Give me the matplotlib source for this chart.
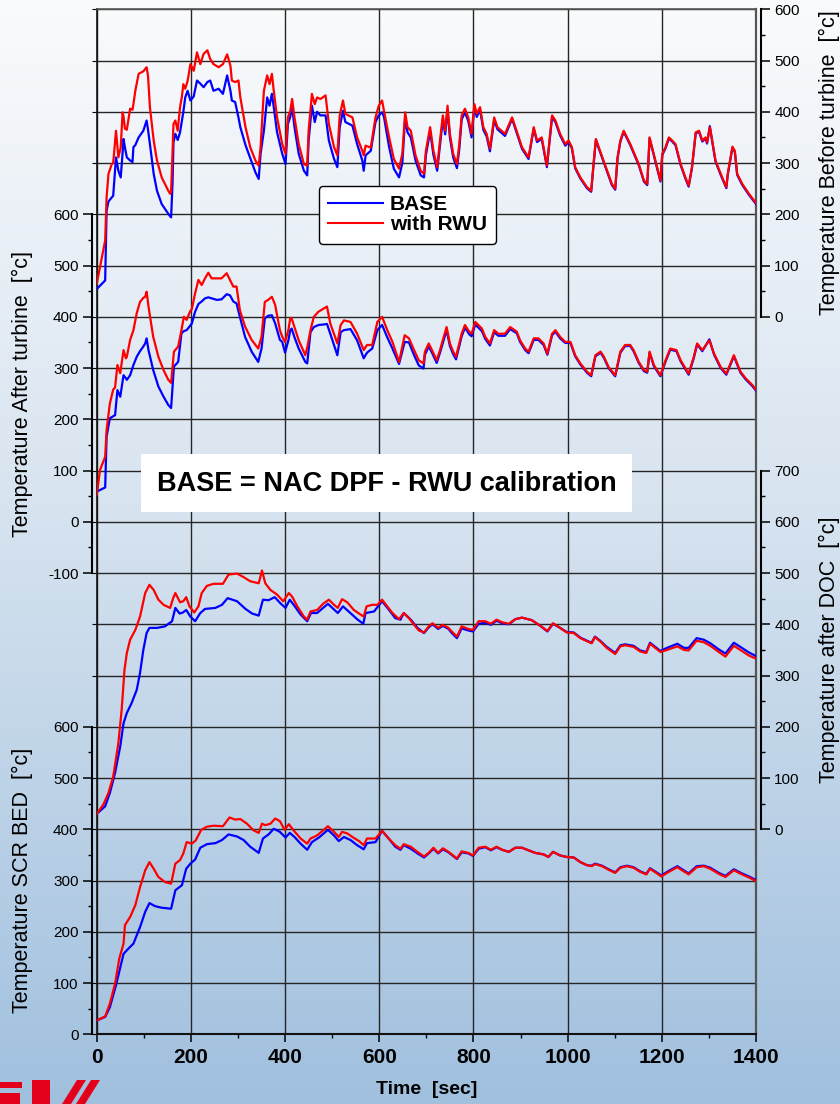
import numpy as np
import matplotlib
matplotlib.use('Agg')
import matplotlib.pyplot as plt
from matplotlib.lines import Line2D
from matplotlib.patches import Rectangle, Polygon

plt.rcParams['font.family'] = ['Liberation Sans', 'DejaVu Sans']
plt.rcParams['axes.unicode_minus'] = False

# ---- data: Temperature Before turbine [°c]
t_bt = [0, 18, 21, 25, 32, 35, 41, 46, 51, 55, 57, 60, 64, 71, 76, 78, 82, 89, 99, 106,
        109, 113, 121, 128, 138, 152, 156, 158, 161, 163, 167, 172, 177, 181, 184, 188, 193, 199, 206, 213,
        220, 227, 235, 241, 248, 259, 268, 277, 284, 287, 294, 301, 305, 316, 326, 337, 344, 348, 355, 362,
        367, 372, 376, 383, 394, 401, 406, 411, 415, 420, 429, 440, 447, 450, 457, 463, 468, 475, 486, 493,
        504, 511, 516, 523, 528, 543, 553, 564, 567, 571, 582, 592, 599, 606, 610, 621, 631, 642, 649, 655,
        660, 667, 677, 688, 695, 699, 708, 715, 723, 729, 735, 740, 745, 750, 757, 765, 770, 775, 782, 789,
        796, 802, 807, 814, 821, 828, 835, 844, 851, 867, 882, 889, 903, 917, 928, 935, 945, 956, 967, 974,
        984, 995, 1002, 1009, 1016, 1027, 1041, 1050, 1055, 1060, 1066, 1084, 1094, 1101, 1106, 1112, 1119, 1133, 1151, 1162,
        1169, 1174, 1190, 1197, 1201, 1208, 1215, 1222, 1229, 1240, 1250, 1257, 1264, 1272, 1279, 1286, 1293, 1296, 1302, 1307,
        1314, 1325, 1337, 1340, 1345, 1350, 1355, 1360, 1371, 1385, 1400]
bt_rwu = [64, 149, 233, 279, 298, 300, 363, 311, 330, 399, 390, 367, 365, 406, 404, 415, 441, 474, 479, 487,
          470, 409, 344, 305, 272, 246, 240, 245, 320, 376, 383, 363, 409, 430, 454, 445, 460, 493, 480, 516,
          493, 513, 520, 503, 493, 487, 493, 512, 490, 461, 458, 461, 428, 370, 331, 305, 295, 331, 441, 471,
          454, 474, 441, 389, 337, 318, 389, 402, 425, 389, 337, 298, 295, 363, 435, 415, 428, 425, 432, 376,
          331, 315, 393, 422, 396, 389, 350, 324, 315, 334, 330, 389, 412, 422, 402, 350, 308, 289, 318, 399,
          370, 363, 315, 285, 279, 324, 370, 324, 292, 344, 393, 363, 412, 357, 318, 298, 337, 393, 406, 389,
          357, 415, 396, 409, 370, 357, 328, 389, 370, 357, 389, 370, 331, 311, 370, 344, 350, 295, 393, 383,
          357, 337, 344, 331, 292, 272, 253, 246, 298, 347, 331, 285, 259, 250, 311, 344, 363, 337, 298, 266,
          259, 350, 292, 266, 318, 331, 350, 344, 337, 298, 272, 256, 292, 360, 363, 344, 350, 340, 370, 344,
          305, 279, 253, 279, 305, 332, 324, 279, 259, 240, 222]
bt_base = [54, 71, 207, 225, 233, 236, 311, 285, 272, 320, 347, 330, 311, 305, 302, 331, 335, 350, 363, 383,
           365, 337, 279, 246, 220, 201, 196, 194, 260, 340, 357, 345, 360, 383, 400, 428, 441, 422, 430, 461,
           455, 448, 458, 461, 441, 445, 435, 471, 441, 422, 419, 389, 370, 335, 310, 282, 269, 318, 363, 428,
           412, 435, 409, 360, 318, 298, 376, 390, 409, 370, 318, 285, 276, 344, 412, 380, 400, 393, 393, 344,
           308, 292, 370, 402, 380, 373, 337, 305, 285, 315, 324, 380, 393, 399, 390, 331, 289, 272, 300, 389,
           360, 350, 305, 276, 272, 315, 362, 316, 285, 336, 385, 356, 404, 350, 311, 290, 328, 385, 399, 382,
           350, 410, 390, 404, 365, 352, 323, 384, 366, 353, 386, 367, 328, 308, 367, 341, 347, 292, 390, 380,
           354, 334, 341, 329, 290, 270, 251, 244, 296, 345, 329, 283, 257, 248, 309, 342, 361, 335, 296, 264,
           257, 348, 290, 264, 316, 329, 348, 342, 335, 296, 270, 254, 290, 358, 361, 342, 348, 338, 372, 342,
           303, 277, 251, 277, 303, 330, 322, 277, 257, 238, 220]

# ---- data: Temperature After turbine [°c]
t_at = [0, 7, 18, 21, 28, 35, 39, 44, 50, 57, 62, 64, 71, 78, 85, 92, 99, 103, 106, 110,
        120, 131, 142, 152, 158, 164, 173, 180, 185, 191, 198, 202, 209, 216, 223, 230, 237, 244, 255, 265,
        276, 283, 290, 297, 304, 315, 329, 343, 350, 357, 364, 372, 379, 389, 394, 400, 407, 411, 414, 420,
        429, 443, 447, 454, 461, 471, 482, 489, 496, 511, 518, 525, 539, 553, 567, 574, 585, 596, 606, 617,
        628, 642, 654, 663, 674, 684, 694, 697, 705, 712, 722, 729, 736, 743, 750, 757, 763, 770, 775, 782,
        791, 796, 804, 818, 825, 835, 844, 853, 867, 878, 892, 899, 910, 917, 928, 938, 949, 957, 967, 974,
        984, 995, 1006, 1016, 1027, 1041, 1050, 1059, 1070, 1077, 1087, 1101, 1112, 1122, 1133, 1140, 1151, 1162, 1169, 1174,
        1183, 1197, 1208, 1218, 1231, 1240, 1257, 1268, 1275, 1286, 1301, 1311, 1325, 1337, 1353, 1367, 1378, 1392, 1400]
at_rwu = [52, 101, 127, 179, 231, 258, 262, 306, 290, 335, 319, 322, 355, 374, 407, 429, 437, 439, 449, 420,
          361, 322, 296, 277, 271, 332, 342, 374, 400, 394, 410, 415, 446, 472, 462, 475, 486, 475, 475, 475,
          485, 472, 459, 459, 413, 381, 355, 338, 361, 429, 433, 439, 423, 374, 361, 351, 374, 397, 397, 380,
          354, 325, 340, 374, 400, 410, 416, 420, 387, 348, 384, 393, 390, 367, 335, 345, 345, 390, 400, 374,
          351, 312, 364, 358, 335, 315, 309, 332, 348, 335, 315, 335, 358, 380, 348, 332, 322, 348, 367, 384,
          371, 367, 390, 377, 361, 348, 374, 367, 367, 380, 371, 354, 338, 332, 358, 358, 348, 328, 367, 374,
          361, 351, 351, 325, 309, 293, 286, 325, 332, 322, 302, 286, 332, 345, 345, 335, 312, 296, 293, 332,
          306, 286, 315, 338, 335, 315, 289, 322, 348, 335, 354, 328, 302, 289, 325, 293, 280, 267, 258]
at_base = [59, 62, 67, 166, 202, 206, 208, 257, 244, 286, 280, 277, 286, 306, 322, 333, 342, 348, 358, 335,
           296, 264, 244, 228, 222, 303, 312, 368, 372, 374, 382, 387, 410, 425, 430, 436, 438, 436, 433, 434,
           444, 442, 430, 426, 400, 361, 332, 312, 338, 397, 402, 403, 387, 355, 351, 330, 354, 374, 377, 360,
           338, 312, 309, 370, 380, 384, 385, 386, 367, 325, 370, 374, 376, 354, 319, 330, 338, 374, 384, 360,
           338, 308, 351, 350, 325, 305, 299, 326, 342, 330, 310, 330, 352, 374, 343, 327, 317, 343, 362, 379,
           366, 362, 385, 372, 357, 344, 370, 363, 363, 376, 368, 351, 335, 329, 355, 355, 345, 326, 364, 371,
           358, 349, 349, 323, 307, 291, 284, 323, 330, 320, 300, 284, 330, 343, 343, 333, 310, 294, 291, 330,
           304, 284, 313, 336, 333, 313, 287, 320, 346, 333, 356, 326, 300, 287, 323, 291, 278, 265, 256]

# ---- data: Temperature after DOC [°c]
t_doc_rwu = [0, 14, 25, 35, 46, 53, 59, 64, 71, 82, 92, 103, 112, 121, 131, 142, 156, 162, 167, 172,
             177, 184, 190, 197, 207, 216, 223, 234, 248, 268, 280, 298, 312, 326, 344, 351, 358, 369, 383, 396,
             408, 415, 426, 440, 447, 454, 468, 482, 493, 504, 512, 521, 532, 546, 557, 567, 573, 585, 596, 606,
             617, 628, 642, 652, 663, 674, 684, 695, 705, 713, 725, 735, 747, 754, 765, 775, 789, 799, 811, 825,
             837, 849, 861, 875, 889, 903, 924, 942, 957, 969, 984, 998, 1013, 1027, 1041, 1051, 1058, 1069, 1083, 1101,
             1112, 1122, 1140, 1154, 1167, 1175, 1197, 1211, 1233, 1247, 1257, 1274, 1289, 1303, 1321, 1335, 1353, 1370, 1385, 1400]
doc_rwu = [30, 48, 71, 103, 168, 233, 311, 344, 370, 389, 415, 461, 477, 467, 448, 438, 432, 450, 461, 452,
           443, 445, 453, 435, 423, 435, 461, 475, 479, 479, 497, 499, 492, 484, 480, 505, 480, 467, 458, 445,
           461, 454, 435, 415, 409, 425, 428, 441, 448, 438, 432, 449, 443, 428, 421, 415, 435, 438, 438, 448,
           435, 422, 410, 422, 412, 399, 388, 384, 396, 402, 393, 399, 393, 386, 376, 396, 391, 389, 406, 406,
           401, 409, 404, 401, 410, 413, 408, 397, 387, 402, 393, 384, 383, 373, 367, 363, 375, 367, 354, 342,
           357, 359, 356, 347, 344, 362, 346, 350, 357, 350, 349, 368, 365, 358, 346, 337, 358, 348, 339, 333]
t_doc_base = [0, 18, 28, 39, 50, 57, 64, 74, 85, 92, 99, 106, 112, 128, 145, 160, 167, 176, 183, 190,
              199, 209, 220, 230, 252, 266, 278, 298, 316, 330, 344, 353, 365, 378, 390, 401, 410, 420, 433, 447,
              455, 468, 491, 512, 523, 553, 566, 571, 589, 606, 620, 634, 645, 652, 667, 681, 695, 705, 713, 725,
              735, 747, 754, 765, 775, 789, 799, 811, 825, 837, 849, 861, 875, 889, 903, 924, 942, 957, 969, 984,
              998, 1013, 1027, 1041, 1051, 1058, 1069, 1083, 1101, 1112, 1122, 1140, 1154, 1167, 1175, 1197, 1211, 1233, 1247, 1257,
              1274, 1289, 1303, 1321, 1335, 1353, 1370, 1385, 1400]
doc_base = [30, 45, 71, 110, 162, 207, 227, 246, 272, 305, 350, 383, 393, 393, 396, 406, 432, 421, 423, 428,
            415, 406, 422, 430, 432, 438, 451, 445, 430, 421, 417, 448, 447, 453, 441, 432, 448, 436, 419, 406,
            422, 422, 440, 422, 435, 410, 401, 422, 425, 445, 429, 412, 409, 422, 409, 393, 383, 394, 400, 391,
            397, 391, 383, 373, 392, 388, 386, 401, 403, 399, 407, 402, 400, 410, 413, 408, 397, 386, 401, 393,
            385, 384, 374, 368, 364, 376, 368, 356, 344, 359, 361, 358, 349, 346, 364, 348, 354, 362, 354, 354,
            373, 370, 363, 351, 343, 364, 354, 345, 338]

# ---- data: Temperature SCR BED [°c]
t_scr_rwu = [0, 18, 28, 39, 48, 57, 60, 71, 82, 92, 103, 112, 121, 131, 145, 158, 167, 177, 184, 191,
             202, 210, 222, 234, 248, 268, 282, 294, 305, 319, 333, 344, 351, 358, 369, 379, 389, 399, 408, 418,
             433, 447, 454, 468, 482, 491, 504, 514, 521, 532, 543, 557, 567, 574, 592, 606, 620, 634, 645, 652,
             667, 681, 695, 705, 715, 725, 735, 747, 754, 765, 775, 789, 799, 811, 825, 837, 849, 861, 875, 889,
             903, 917, 931, 949, 959, 969, 984, 998, 1013, 1027, 1041, 1051, 1058, 1073, 1087, 1101, 1112, 1126, 1140, 1154,
             1167, 1175, 1199, 1215, 1233, 1243, 1257, 1274, 1289, 1303, 1321, 1335, 1353, 1370, 1385, 1400]
scr_rwu = [27, 35, 60, 99, 148, 177, 213, 229, 252, 287, 320, 336, 323, 307, 297, 294, 333, 340, 353, 375,
           372, 378, 399, 405, 407, 406, 423, 419, 420, 411, 398, 393, 411, 408, 411, 421, 416, 399, 410, 398,
           382, 372, 382, 388, 399, 406, 395, 385, 395, 392, 385, 377, 369, 382, 382, 397, 382, 369, 362, 371,
           366, 356, 347, 354, 364, 354, 363, 356, 351, 343, 357, 354, 349, 364, 366, 360, 366, 360, 356, 364,
           364, 359, 354, 351, 346, 356, 349, 346, 345, 336, 330, 328, 332, 328, 321, 315, 325, 328, 325, 317,
           312, 323, 308, 317, 326, 320, 312, 326, 328, 323, 313, 307, 320, 312, 306, 299]
t_scr_base = [0, 18, 28, 41, 46, 57, 64, 78, 92, 103, 112, 124, 138, 158, 167, 181, 190, 199, 209, 220,
              234, 252, 266, 280, 298, 312, 326, 344, 353, 365, 376, 389, 401, 410, 420, 433, 447, 457, 472, 491,
              504, 514, 525, 539, 553, 567, 574, 592, 606, 620, 634, 645, 652, 667, 681, 695, 705, 715, 725, 735,
              747, 754, 765, 775, 789, 799, 811, 825, 837, 849, 861, 875, 889, 903, 917, 931, 949, 959, 969, 984,
              998, 1013, 1027, 1041, 1051, 1058, 1073, 1087, 1101, 1112, 1126, 1140, 1154, 1167, 1175, 1199, 1215, 1233, 1243, 1257,
              1274, 1289, 1303, 1321, 1335, 1353, 1370, 1385, 1400]
scr_base = [27, 34, 53, 96, 115, 157, 164, 177, 209, 239, 256, 250, 247, 245, 281, 291, 323, 333, 341, 364,
            371, 373, 379, 390, 386, 379, 366, 354, 382, 390, 401, 395, 384, 393, 385, 372, 360, 375, 384, 399,
            388, 377, 385, 379, 369, 361, 373, 375, 397, 382, 366, 360, 369, 362, 353, 345, 353, 362, 353, 361,
            355, 350, 342, 355, 353, 348, 362, 365, 359, 365, 360, 356, 364, 364, 359, 354, 351, 346, 356, 349,
            346, 345, 336, 330, 329, 333, 329, 322, 316, 326, 329, 326, 318, 313, 324, 310, 319, 328, 322, 314,
            328, 329, 325, 315, 309, 322, 314, 308, 301]

series_labels = ['BASE', 'with RWU']
x_ticks = [0, 200, 400, 600, 800, 1000, 1200, 1400]

W, H = 840, 1104
fig = plt.figure(figsize=(W / 100, H / 100), dpi=100)


def fx(px):
    return px / W


def fy(py):
    return 1 - py / H


# background gradient
bg = fig.add_axes([0, 0, 1, 1], zorder=-10)
rows = np.linspace(0, 1, 300)
stops = [0, 0.45, 1]
cols = [(250, 251, 253), (216, 228, 240), (160, 192, 222)]
grad = np.stack([np.interp(rows, stops, [c[i] for c in cols]) for i in range(3)], axis=-1) / 255
bg.imshow(grad[:, None, :], aspect='auto', extent=[0, 1, 0, 1])
bg.axis('off')

left, bottom, right, top = 96.7, 1034.3, 756.0, 9.3
ax = fig.add_axes([fx(left), fy(bottom), (right - left) / W, (bottom - top) / H])
ax.set_facecolor('none')
ax.set_xlim(0, 1400)
ax.set_ylim(0, 2000)
ax.set_xticks(x_ticks)
ax.set_xticks(np.arange(100, 1400, 200), minor=True)
ax.set_xticklabels([str(v) for v in x_ticks], fontsize=15, fontweight='bold')
ax.set_yticks(np.arange(0, 2001, 100))
ax.tick_params(axis='y', left=False, labelleft=False)
ax.tick_params(axis='x', which='major', length=6, width=1.1, pad=4, direction='out')
ax.tick_params(axis='x', which='minor', length=3, width=1.0, direction='out')
ax.grid(True, which='major', color='#262626', lw=1.0)
ax.spines['left'].set_color('#111111')
ax.spines['left'].set_linewidth(1.2)
ax.spines['top'].set_color('#555555')
ax.spines['top'].set_linewidth(1.2)
ax.spines['right'].set_color('#555555')
ax.spines['right'].set_linewidth(1.6)
ax.spines['bottom'].set_color('#111111')
ax.spines['bottom'].set_linewidth(1.5)
ax.set_xlabel('Time  [sec]', fontsize=14, fontweight='bold', va='top')
ax.xaxis.set_label_coords(0.5, (bottom - 1081) / (bottom - top))


def add_scale(offset, lo, hi, side, label):
    tw = ax.twinx()
    tw.set_ylim(-offset, 2000 - offset)
    for s in tw.spines.values():
        s.set_visible(False)
    sp = tw.spines[side]
    sp.set_visible(True)
    sp.set_position(('outward', 3.6))
    sp.set_bounds(lo, hi)
    sp.set_linewidth(1.5)
    tw.yaxis.set_ticks_position(side)
    tw.yaxis.set_label_position(side)
    tw.set_yticks(np.arange(lo, hi + 1, 100))
    tw.set_yticks(np.arange(lo, hi + 1, 50), minor=True)
    tw.tick_params(axis='y', which='major', length=6.5, width=1.1, direction='out', labelsize=11, pad=3)
    tw.tick_params(axis='y', which='minor', length=3, width=1.0, direction='out')
    tw.set_ylabel(label, fontsize=15.5)
    xc = -0.0966 if side == 'left' else 1.096
    tw.yaxis.set_label_coords(xc, (offset + (lo + hi) / 2) / 2000)
    return tw


a_scr = add_scale(0, 0, 600, 'left', 'Temperature SCR BED  [°c]')
a_doc = add_scale(400, 0, 700, 'right', 'Temperature after DOC  [°c]')
a_at = add_scale(1000, -100, 600, 'left', 'Temperature After turbine  [°c]')
a_bt = add_scale(1400, 0, 600, 'right', 'Temperature Before turbine  [°c]')

lw = 1.6
a_scr.plot(t_scr_base, scr_base, color='#0000ff', lw=lw)
a_scr.plot(t_scr_rwu, scr_rwu, color='#ff0000', lw=lw)
a_doc.plot(t_doc_base, doc_base, color='#0000ff', lw=lw)
a_doc.plot(t_doc_rwu, doc_rwu, color='#ff0000', lw=lw)
a_at.plot(t_at, at_base, color='#0000ff', lw=lw)
a_at.plot(t_at, at_rwu, color='#ff0000', lw=lw)
a_bt.plot(t_bt, bt_base, color='#0000ff', lw=lw)
a_bt.plot(t_bt, bt_rwu, color='#ff0000', lw=lw)

handles = [Line2D([], [], color='#0000ff', lw=1.5), Line2D([], [], color='#ff0000', lw=1.5)]
leg = fig.legend(handles, series_labels, loc='upper left', bbox_to_anchor=(fx(319), fy(186)),
                 prop={'weight': 'bold', 'size': 15}, frameon=True, fancybox=True, framealpha=1,
                 edgecolor='black', borderpad=0.45, handlelength=2.6, handletextpad=0.35,
                 labelspacing=0.05, borderaxespad=0)
leg.get_frame().set_linewidth(1.0)

fig.patches.append(Rectangle((fx(141), fy(512)), (632 - 141) / W, 58 / H, transform=fig.transFigure,
                             facecolor='white', edgecolor='none', zorder=2))
fig.text(fx(386.5), fy(484), 'BASE = NAC DPF - RWU calibration', ha='center', va='center',
         fontsize=19.5, fontweight='bold', zorder=3)

# cropped logo in the bottom-left corner
logo = [
    [(0, 1082), (22, 1082), (22, 1088), (0, 1088)],
    [(0, 1093), (20, 1093), (20, 1104), (0, 1104)],
    [(32, 1080), (50, 1080), (50, 1104), (32, 1104)],
    [(62, 1104), (71, 1104), (86, 1080), (77, 1080)],
    [(76, 1104), (85, 1104), (100, 1080), (91, 1080)],
]
for shape in logo:
    fig.patches.append(Polygon([(fx(x), fy(y)) for x, y in shape], closed=True, transform=fig.transFigure,
                               facecolor='#e3001b', edgecolor='none', zorder=2))

fig.savefig('out.png', dpi=100)
